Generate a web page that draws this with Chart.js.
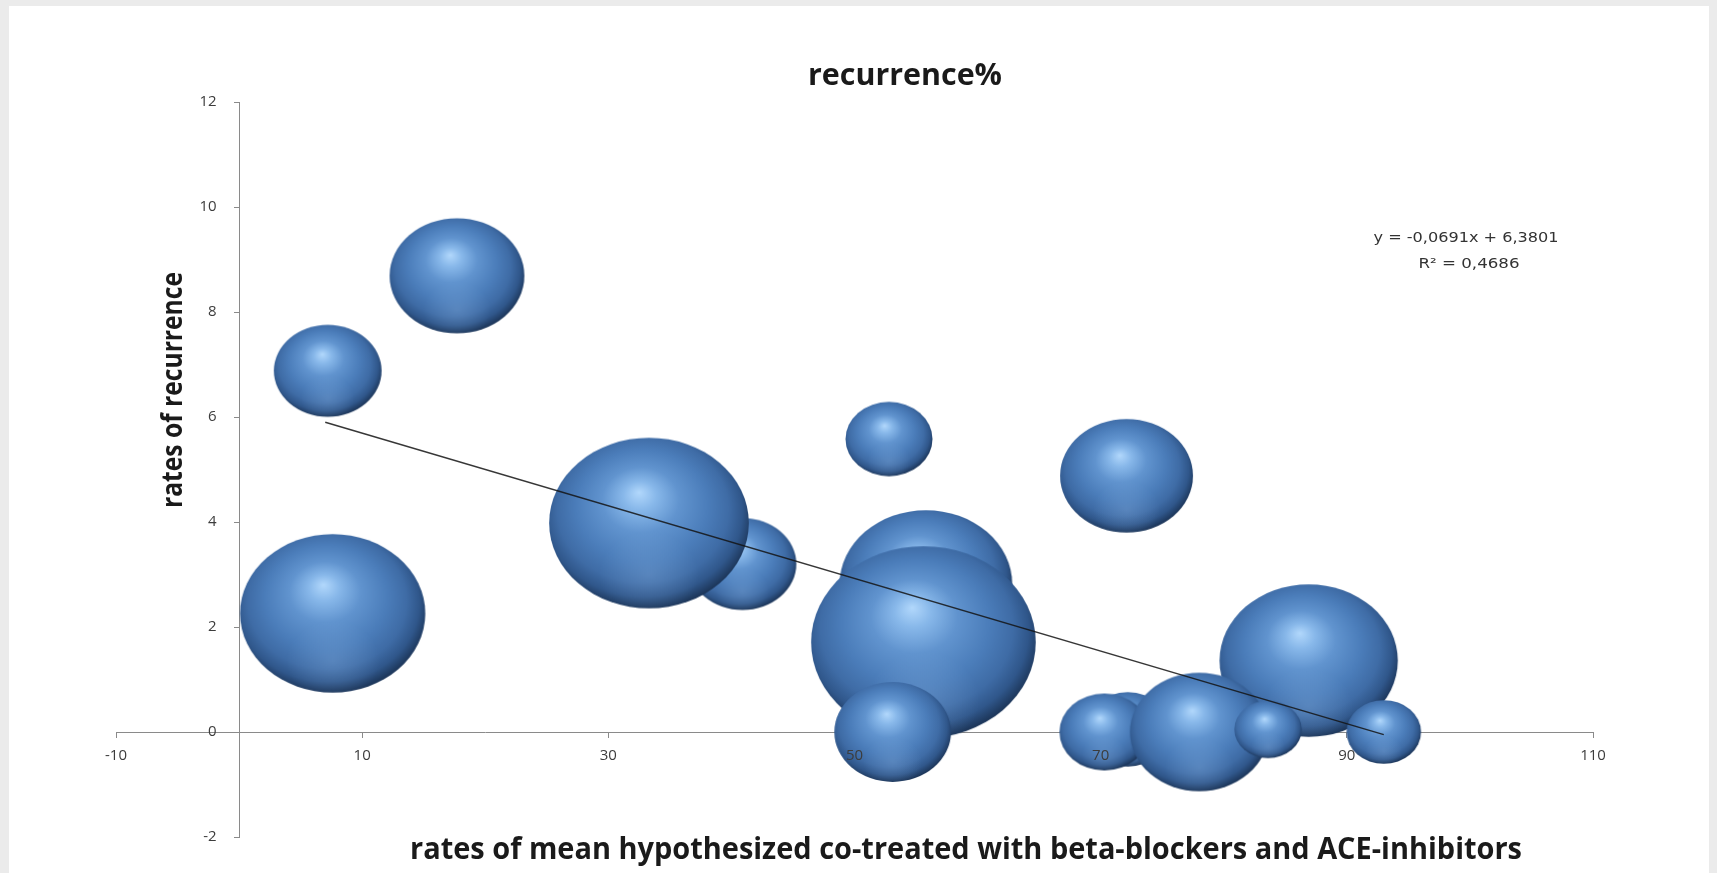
<!DOCTYPE html>
<html>
<head>
<meta charset="utf-8">
<title>recurrence%</title>
<script src="https://cdn.jsdelivr.net/npm/chart.js@4.4.1/dist/chart.umd.min.js"></script>
<style>
  html, body { margin: 0; padding: 0; background: #ebebeb; overflow: hidden; }
  #wrap { position: relative; width: 1717px; height: 873px; }
</style>
</head>
<body>
<div id="wrap"><canvas id="chart"></canvas></div>
<script>
// bubbles, listed back to front (later ones sit on top)
const rateCoTreated = [7.6, 7.2, 17.7, 40.9, 33.3, 52.8, 55.8, 55.6, 53.1, 72.1, 72.2, 70.3, 86.9, 78.0, 83.6, 93.0];
const rateRecurrence = [2.26, 6.88, 8.69, 3.2, 3.98, 5.58, 2.82, 1.71, 0.0, 4.88, 0.05, 0.0, 1.36, 0.0, 0.05, 0.0];
const bubbleSize = [68, 23, 36, 23, 79, 15, 59, 100, 27, 35, 15, 16, 63, 38, 9, 11];

const xTicks = [-10, 10, 30, 50, 70, 90, 110];
const yTicks = [-2, 0, 2, 4, 6, 8, 10, 12];

// linear trendline ends
const trendX = [7, 93];
const trendY = [5.90, -0.05];
const trendLabel = ['y = -0,0691x + 6,3801', 'R\u00b2 = 0,4686'];

const chartTitle = 'recurrence%';
const xTitle = 'rates of mean hypothesized co-treated with beta-blockers and ACE-inhibitors';
const yTitle = 'rates of recurrence';

const AXIS = '#8a8a8a';
const TICK = '#3c3c3c';
const R_SCALE = 9.6;   // px of vertical radius per unit of r
const ASPECT = 1.17;   // the original picture is stretched sideways

// shaded 3D ball, like the Excel bubble
function sphere(ry) {
  const rx = ry * ASPECT;
  const c = document.createElement('canvas');
  c.width = Math.ceil(rx * 2) + 2;
  c.height = Math.ceil(ry * 2) + 2;
  const g = c.getContext('2d');
  g.translate(c.width / 2, c.height / 2);
  g.scale(ASPECT, 1);
  const grad = g.createRadialGradient(-0.1 * ry, -0.36 * ry, 0, -0.05 * ry, -0.1 * ry, 1.1 * ry);
  grad.addColorStop(0, '#b2d8fc');
  grad.addColorStop(0.15, '#88b8ea');
  grad.addColorStop(0.35, '#6194cf');
  grad.addColorStop(0.6, '#4b7dba');
  grad.addColorStop(0.78, '#3f6ca6');
  grad.addColorStop(0.9, '#30578b');
  grad.addColorStop(1, '#1d375b');
  g.beginPath();
  g.arc(0, 0, ry, 0, Math.PI * 2);
  g.fillStyle = grad;
  g.fill();
  g.clip();
  const glow = g.createRadialGradient(0, 0.6 * ry, 0, 0, 0.6 * ry, 0.5 * ry);
  glow.addColorStop(0, 'rgba(150,190,235,0.25)');
  glow.addColorStop(1, 'rgba(150,190,235,0)');
  g.fillStyle = glow;
  g.fillRect(-ry, -ry, ry * 2, ry * 2);
  return c;
}

// r holds sqrt of the bubble size; the drawn ball is scaled from it
const bubbleR = bubbleSize.map(s => Math.sqrt(s));
const bubbleImages = bubbleR.map(r => sphere(r * R_SCALE));

function fitText(ctx, text, x, y, font, width, align, color, angle) {
  ctx.save();
  ctx.font = font;
  ctx.fillStyle = color;
  ctx.textAlign = align;
  ctx.textBaseline = 'alphabetic';
  const w = ctx.measureText(text).width;
  ctx.translate(x, y);
  if (angle) ctx.rotate(angle);
  ctx.scale(width / w, 1);
  ctx.fillText(text, 0, 0);
  ctx.restore();
}

const paper = {
  id: 'paper',
  beforeDraw(chart) {
    const ctx = chart.ctx;
    ctx.save();
    ctx.fillStyle = '#ebebeb';
    ctx.fillRect(0, 0, chart.width, chart.height);
    ctx.fillStyle = '#ffffff';
    ctx.fillRect(9, 6, chart.width - 17, chart.height - 6);
    ctx.restore();
  },
  afterDraw(chart) {
    const ctx = chart.ctx;
    fitText(ctx, chartTitle, 905, 85, 'bold 31px "Open Sans"', 194, 'center', '#1a1a1a');
    fitText(ctx, xTitle, 410, 859, 'bold 30px "Open Sans"', 1112, 'left', '#1a1a1a');
    fitText(ctx, yTitle, 182, 390, 'bold 28px "Open Sans"', 236, 'center', '#1a1a1a', -Math.PI / 2);
    fitText(ctx, trendLabel[0], 1466, 242, '14px "DejaVu Sans"', 185, 'center', '#333333');
    fitText(ctx, trendLabel[1], 1469, 268, '14px "DejaVu Sans"', 101, 'center', '#333333');
  }
};

const tickFont = { family: 'Open Sans', size: 15 };

new Chart(document.getElementById('chart'), {
  type: 'bubble',
  data: {
    datasets: [
      {
        type: 'line',
        label: 'trend',
        data: trendX.map((x, i) => ({ x: x, y: trendY[i] })),
        borderColor: 'rgba(20,20,20,0.85)',
        borderWidth: 1.5,
        pointRadius: 0,
        fill: false,
        order: 0
      },
      {
        label: 'recurrence%',
        data: rateCoTreated.map((x, i) => ({ x: x, y: rateRecurrence[i], r: bubbleR[i] })),
        pointStyle: ctx => bubbleImages[ctx.dataIndex],
        backgroundColor: '#4f81bd',
        borderWidth: 0,
        clip: false,
        order: 1
      }
    ]
  },
  options: {
    responsive: true,
    maintainAspectRatio: false,
    animation: false,
    events: [],
    layout: { padding: { left: 116, right: 124, top: 102, bottom: 36 } },
    plugins: {
      legend: { display: false },
      tooltip: { enabled: false },
      title: { display: false }
    },
    scales: {
      x: {
        type: 'linear',
        min: -10,
        max: 110,
        position: { y: 0 },
        afterFit: s => { s.height = 0; },
        afterBuildTicks: s => { s.ticks = xTicks.map(v => ({ value: v })); },
        grid: { display: true, drawOnChartArea: false, drawTicks: true, tickLength: 5, color: AXIS, lineWidth: 1 },
        border: { display: true, color: AXIS, width: 1 },
        // line under the bubbles, labels over them
        ticks: { color: TICK, font: tickFont, padding: 10, maxRotation: 0, autoSkip: false, z: 1 }
      },
      y: {
        type: 'linear',
        min: -2,
        max: 12,
        position: { x: 0 },
        afterFit: s => { s.width = 0; },
        afterBuildTicks: s => { s.ticks = yTicks.map(v => ({ value: v })); },
        grid: { display: true, drawOnChartArea: false, drawTicks: true, tickLength: 5, color: AXIS, lineWidth: 1 },
        border: { display: true, color: AXIS, width: 1 },
        // labels of a value-positioned axis sit right on the line, so pad them with spaces
        ticks: { color: TICK, font: tickFont, autoSkip: false, callback: v => v + '\u2003\u2002' }
      }
    }
  },
  plugins: [paper]
});
</script>
</body>
</html>
